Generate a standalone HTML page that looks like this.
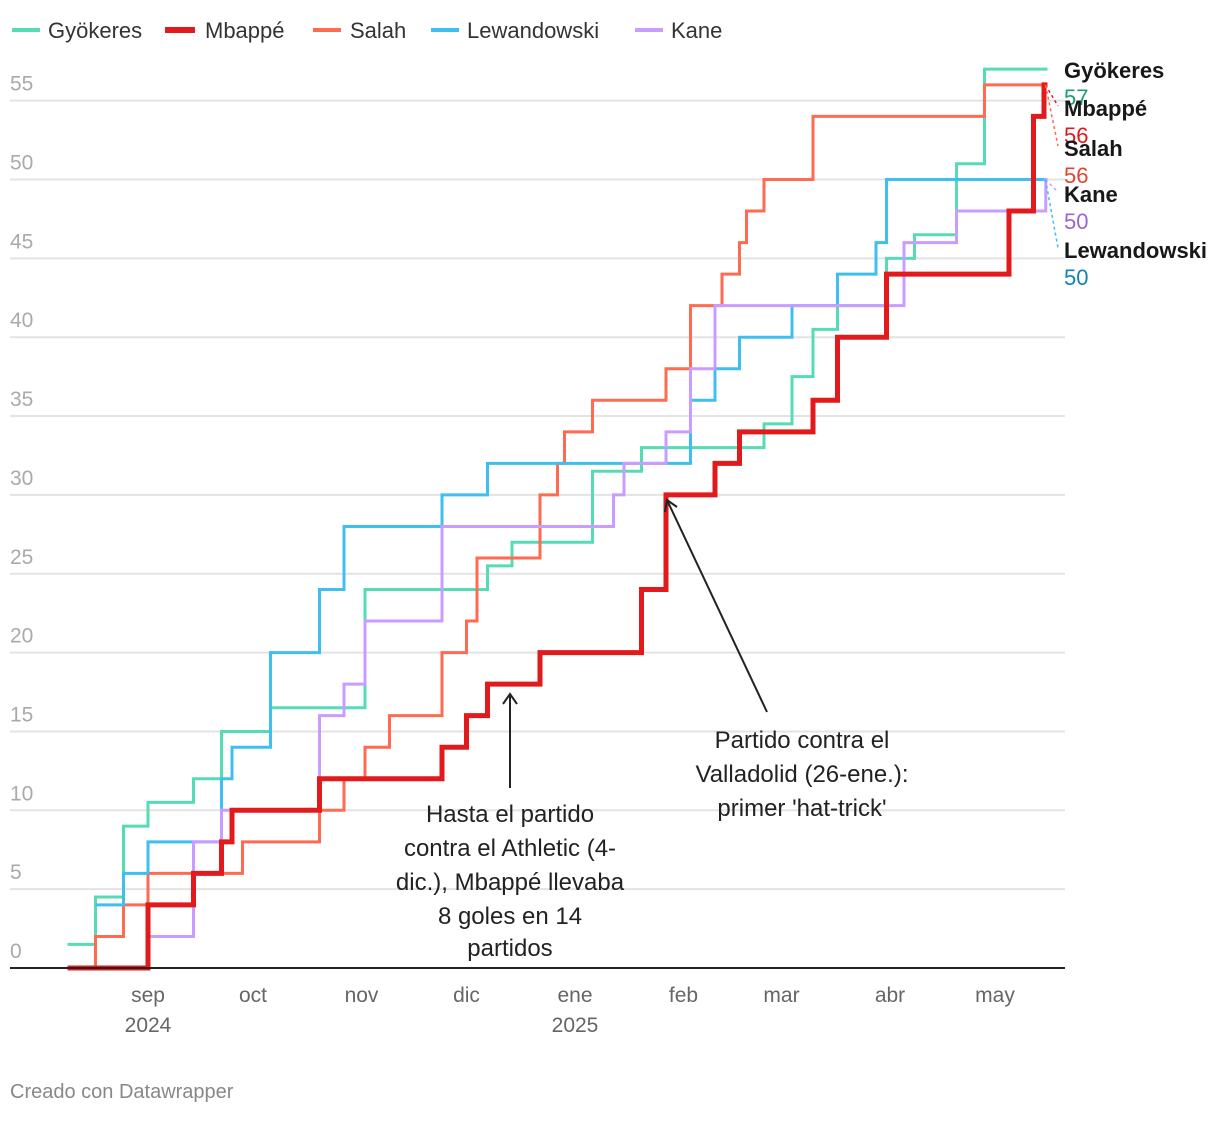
<!DOCTYPE html>
<html><head><meta charset="utf-8"><style>
body{margin:0;background:#fff;font-family:"Liberation Sans",Arial,sans-serif}
svg text{font-family:"Liberation Sans",Arial,sans-serif}
</style></head><body>
<svg id="chart" width="1220" height="1116" viewBox="0 0 1220 1116" xmlns="http://www.w3.org/2000/svg">
<g id="legend" font-size="22" fill="#333">
<g><line x1="12" y1="30" x2="40" y2="30" stroke="#55dbb5" stroke-width="4"/><text x="48" y="38">Gyökeres</text></g>
<g><line x1="165" y1="30" x2="195" y2="30" stroke="#e31a1c" stroke-width="6"/><text x="205" y="38">Mbappé</text></g>
<g><line x1="313" y1="30" x2="341" y2="30" stroke="#ff6a50" stroke-width="4"/><text x="350" y="38">Salah</text></g>
<g><line x1="431" y1="30" x2="459" y2="30" stroke="#3fbfef" stroke-width="4"/><text x="467" y="38">Lewandowski</text></g>
<g><line x1="635" y1="30" x2="663" y2="30" stroke="#c99cff" stroke-width="4"/><text x="671" y="38">Kane</text></g>
</g>
<g id="grid"></g>
<g id="series"></g>
<g id="axis"></g>
<g id="labels"></g>
<g id="annot" font-size="24" fill="#222" text-anchor="middle">
<text><tspan x="510" y="822">Hasta el partido</tspan><tspan x="510" y="856">contra el Athletic (4-</tspan><tspan x="510" y="890">dic.), Mbappé llevaba</tspan><tspan x="510" y="924">8 goles en 14</tspan><tspan x="510" y="956">partidos</tspan></text>
<line x1="510" y1="788" x2="510" y2="694" stroke="#222" stroke-width="2"/>
<path d="M503,704 L510,694 L517,704" fill="none" stroke="#222" stroke-width="2"/>
<text><tspan x="802" y="748">Partido contra el</tspan><tspan x="802" y="782">Valladolid (26-ene.):</tspan><tspan x="802" y="816">primer 'hat-trick'</tspan></text>
<line x1="767" y1="712" x2="667" y2="500" stroke="#222" stroke-width="2"/>
<path d="M665,512 L667,500 L677,507" fill="none" stroke="#222" stroke-width="2"/>
</g>
<text x="10" y="1098" font-size="20" fill="#888">Creado con Datawrapper</text>
</svg>
<script>
const yTicks=[0,5,10,15,20,25,30,35,40,45,50,55];
const monthLabels=['sep','oct','nov','dic','ene','feb','mar','abr','may'];
const monthDays=[31,61,92,122,153,184,212,243,273];
const yearLabels=['2024','2025'];
const yearDays=[31,153];
const endDay=288;
const names=['Gyökeres','Mbappé','Salah','Kane','Lewandowski'];
const gyoDays=[8,16,24,31,44,52,66,93,128,135,158,172,207,215,221,228,242,250,262,270];
const gyoVals=[1.5,4.5,9,10.5,12,15,16.5,24,25.5,27,31.5,33,34.5,37.5,40.5,42,45,46.5,51,57];
const mbaDays=[8,31,44,52,55,80,115,122,128,143,172,179,193,200,221,228,242,277,284,287];
const mbaVals=[0,4,6,8,10,12,14,16,18,20,24,30,32,34,36,40,44,48,54,56];
const salDays=[8,16,24,31,58,80,87,93,100,115,122,125,143,148,150,158,179,186,195,200,202,207,221,270];
const salVals=[0,2,4,6,8,10,12,14,16,20,22,26,30,32,34,36,38,42,44,46,48,50,54,56];
const lewDays=[16,24,31,52,55,66,80,87,115,128,186,193,200,215,228,239,242];
const lewVals=[4,6,8,12,14,20,24,28,30,32,36,38,40,42,44,46,50];
const kanDays=[31,44,52,80,87,93,115,164,167,179,186,193,247,262,287.5];
const kanVals=[2,8,10,16,18,22,28,30,32,34,38,42,46,48,50];
const finalVals=[57,56,56,50,50];

const X=d=>39.5+d*3.5;
const Y=v=>968-v*15.77;
const NS='http://www.w3.org/2000/svg';
function mk(tag,attrs,parent){const e=document.createElementNS(NS,tag);for(const k in attrs)e.setAttribute(k,attrs[k]);parent.appendChild(e);return e;}
const grid=document.getElementById('grid'),series=document.getElementById('series'),axis=document.getElementById('axis'),labels=document.getElementById('labels');
yTicks.forEach(t=>{
  if(t>0){const l=mk('line',{x1:10,x2:1065,y1:Y(t),y2:Y(t),stroke:'#e3e3e3','stroke-width':2},grid);
  
  }
  const tx=mk('text',{x:10,y:Y(t)-10,'font-size':21,fill:'#aaa'},grid);tx.textContent=t;
  
  
});
const base=mk('line',{x1:10,x2:1065,y1:968,y2:968,stroke:'#222','stroke-width':2},axis);


monthLabels.forEach((m,i)=>{
  const t=mk('text',{x:X(monthDays[i]),y:1002,'font-size':21,fill:'#666','text-anchor':'middle'},axis);t.textContent=m;
  
  
});
yearLabels.forEach((m,i)=>{
  const t=mk('text',{x:X(yearDays[i]),y:1032,'font-size':21,fill:'#666','text-anchor':'middle'},axis);t.textContent=m;
  
  
});
function stepPath(days,vals){
  let d='M'+X(days[0])+','+Y(vals[0]);
  for(let i=1;i<days.length;i++){d+=' H'+X(days[i])+' V'+Y(vals[i]);}
  d+=' H'+X(endDay);return d;
}
const defs=[[gyoDays,gyoVals,'#55dbb5',3,'line-gyokeres'],[salDays,salVals,'#ff6a50',3,'line-salah'],[lewDays,lewVals,'#3fbfef',3,'line-lewandowski'],[kanDays,kanVals,'#c99cff',3,'line-kane'],[mbaDays,mbaVals,'#e31a1c',5,'line-mbappe']];
defs.forEach(s=>{
  const p=mk('path',{d:stepPath(s[0],s[1]),fill:'none',stroke:s[2],'stroke-width':s[3],'stroke-linejoin':'miter'},series);
  
  
});
const labY=[70,108,148,194,250];
const valCol=['#1a9e77','#e31a1c','#e0452f','#9a64d6','#1184b5'];
const leadCol=['#55dbb5','#e31a1c','#ff6a50','#c99cff','#3fbfef'];
names.forEach((n,i)=>{
  const t=mk('text',{x:1064,y:labY[i]+8,'font-size':22,'font-weight':'bold',fill:'#181818'},labels);t.textContent=n;
  
  
  const v=mk('text',{x:1064,y:labY[i]+35,'font-size':22,fill:valCol[i]},labels);v.textContent=finalVals[i];
  
  
  if(i>0){const l=mk('line',{x1:X(endDay)-2,y1:Y(finalVals[i]),x2:1058,y2:labY[i]-2,stroke:leadCol[i],'stroke-width':1.5,'stroke-dasharray':'3,3'},labels);
  
  }
});
</script>
</body></html>
